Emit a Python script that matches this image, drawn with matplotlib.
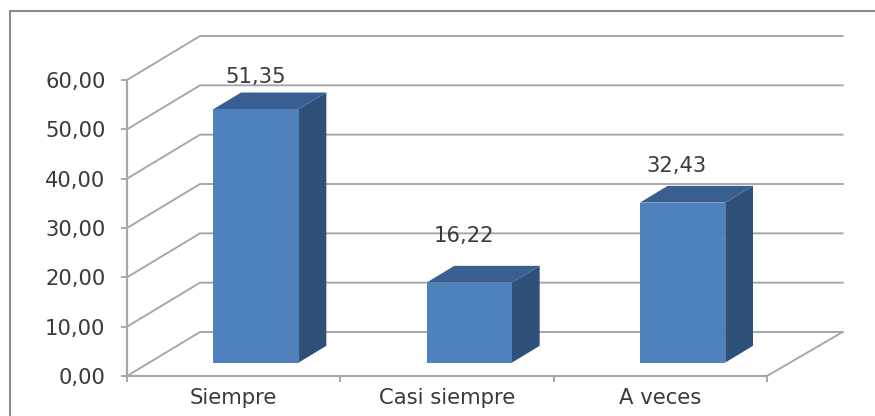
import matplotlib
matplotlib.use("Agg")
import matplotlib.pyplot as plt
from matplotlib.patches import Polygon
from matplotlib.lines import Line2D

categories = ["Siempre", "Casi siempre", "A veces"]
values = [51.35, 16.22, 32.43]
value_labels = ["51,35", "16,22", "32,43"]
y_ticks = [0, 10, 20, 30, 40, 50, 60]
y_tick_labels = ["0,00", "10,00", "20,00", "30,00", "40,00", "50,00", "60,00"]

plt.rcParams['font.family'] = ['DejaVu Sans']

W, H = 875, 416
GRID = '#a8a8a8'
TEXT = '#3a3a3a'
FS = 15.2

fig = plt.figure(figsize=(W / 100, H / 100), dpi=100)
# axes box is the front plane of the 3d chart
ax = fig.add_axes([127 / W, 1 - 376 / H, 640 / W, 296 / H])
ax.set_xlim(0, 3)
ax.set_ylim(0, 60)
ax.patch.set_visible(False)

# depth of the chart, in data units
dep_x = 73 / 640 * 3
dep_y = 44 / 296 * 60
back_end = 3.0125


def proj(x, y, d):
    return x + d * dep_x, y + d * dep_y


# walls and floor
for v in y_ticks:
    x1, y1 = proj(0, v, 1)
    x2, y2 = proj(back_end, v, 1)
    ax.plot([0, x1, x2], [v, y1, y2], color=GRID, lw=1.4, clip_on=False, zorder=1)
xe, ye = proj(back_end, 0, 1)
ax.plot([3, xe], [0, ye], color=GRID, lw=1.4, clip_on=False, zorder=1)

# bars
bar_w = 0.40
d0, d1 = 0.305, 0.685
# the labels were moved by hand in the original, offsets in points
label_off = [(0, 4), (-3.5, 14.5), (-4.5, 7)]
for i, v in enumerate(values):
    left = i + 0.5 - bar_w / 2
    right = left + bar_w
    front = [proj(left, 0, d0), proj(right, 0, d0), proj(right, v, d0), proj(left, v, d0)]
    side = [proj(right, 0, d0), proj(right, 0, d1), proj(right, v, d1), proj(right, v, d0)]
    top = [proj(left, v, d0), proj(right, v, d0), proj(right, v, d1), proj(left, v, d1)]
    ax.add_patch(Polygon(side, facecolor='#2f5079', edgecolor='none', zorder=3, clip_on=False))
    ax.add_patch(Polygon(top, facecolor='#385f90', edgecolor='none', zorder=3, clip_on=False))
    ax.add_patch(Polygon(front, facecolor='#4f81bd', edgecolor='none', zorder=4, clip_on=False))
    lx, ly = proj(i + 0.5, v, d0)
    ax.annotate(value_labels[i], (lx, ly + dep_y * (d1 - d0)), xytext=label_off[i],
                textcoords='offset points', ha='center', va='bottom', fontsize=FS,
                color=TEXT, zorder=5, annotation_clip=False)

# axes
for s in ['top', 'right']:
    ax.spines[s].set_visible(False)
for s in ['left', 'bottom']:
    ax.spines[s].set_color(GRID)
    ax.spines[s].set_linewidth(1.6)
ax.set_yticks(y_ticks)
ax.set_yticklabels(y_tick_labels, fontsize=FS, color=TEXT)
ax.set_xticks([0, 1, 2, 3])
ax.set_xticklabels([])
ax.set_xticks([0.5, 1.5, 2.5], minor=True)
ax.set_xticklabels(categories, minor=True, fontsize=FS, color=TEXT)
ax.tick_params(axis='y', length=4.5, width=1.4, color=GRID, pad=11)
ax.tick_params(axis='x', which='major', length=4, width=1.4, color=GRID)
ax.tick_params(axis='x', which='minor', length=0, pad=9)

# picture frame, only left and top are inside the crop
fig.add_artist(Line2D([10 / W, 10 / W, 1], [0, 1 - 11 / H, 1 - 11 / H], color='#8c8c8c',
                      lw=1.5, transform=fig.transFigure))

fig.savefig("out.png", dpi=100)
